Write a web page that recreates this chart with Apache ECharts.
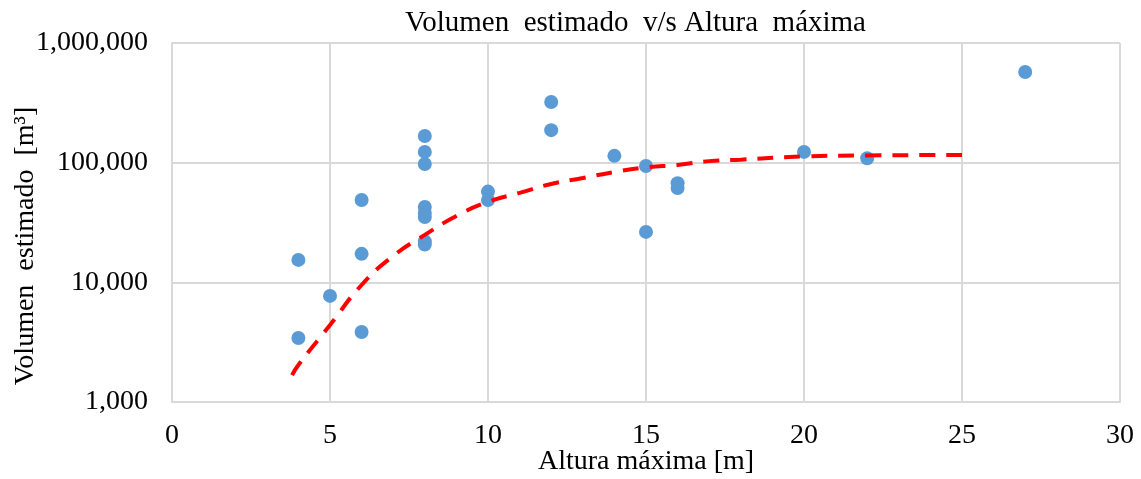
<!DOCTYPE html>
<html>
<head>
<meta charset="utf-8">
<script src="https://cdn.jsdelivr.net/npm/echarts@6/dist/echarts.min.js"></script>
<style>
  html, body { margin: 0; padding: 0; background: #fff; }
  #chart { width: 1141px; height: 479px; }
</style>
</head>
<body>
<div id="chart"></div>
<script>
// measured points: [altura máxima (m), volumen estimado (m3)]
var alturas = [4, 4, 5, 6, 6, 6, 8, 8, 8, 8, 8, 8, 8, 8, 10, 10, 12, 12, 14, 15, 15, 16, 16, 20, 22, 27];
var volumenes = [15400, 3430, 7700, 48800, 17300, 3850, 167000, 123000, 97500, 42600, 38000, 35200, 22000, 20700,
                 57300, 48800, 321000, 187000, 114000, 93800, 26400, 67300, 61500, 123000, 109000, 572000];

// trend curve
var tendX = [3.8, 4, 5, 6, 7, 8, 9, 10, 11, 12, 13, 14, 15, 16, 17, 18, 20, 22, 25];
var tendY = [1680, 2040, 4400, 9500, 16600, 24900, 35900, 47000, 55900, 66400, 74500, 83600, 91200, 95700,
             103000, 106000, 112700, 114800, 116000];

var xTicks = [0, 5, 10, 15, 20, 25, 30];
var yTicks = [1000, 10000, 100000, 1000000];

var puntos = alturas.map(function (a, i) { return [a, volumenes[i]]; });
var tendencia = tendX.map(function (a, i) { return [a, tendY[i]]; });

var chart = echarts.init(document.getElementById('chart'));
var serif = 'Liberation Serif';
var gris = '#d9d9d9';

chart.setOption({
  animation: false,
  title: {
    text: 'Volumen  estimado  v/s Altura  máxima',
    left: 400,
    top: 4,
    textStyle: { fontFamily: serif, fontSize: 29, fontWeight: 'normal', color: '#000' }
  },
  // y axis name drawn apart so it can sit where the reference has it
  graphic: [{
    type: 'text',
    x: 26,
    y: 246,
    rotation: Math.PI / 2,
    style: {
      text: 'Volumen  estimado  [m³]',
      fontFamily: serif, fontSize: 28, fill: '#000',
      align: 'center', verticalAlign: 'middle'
    }
  }],
  grid: { left: 172, right: 21, top: 43, bottom: 77, outerBoundsMode: 'none' },
  xAxis: {
    type: 'value',
    min: xTicks[0],
    max: xTicks[xTicks.length - 1],
    interval: 5,
    name: 'Altura máxima [m]',
    nameLocation: 'middle',
    nameGap: 46,
    nameMoveOverlap: false,
    nameTextStyle: { fontFamily: serif, fontSize: 28, color: '#000' },
    axisLine: { lineStyle: { color: gris, width: 2 } },
    axisTick: { show: false },
    axisLabel: { fontFamily: serif, fontSize: 28, color: '#000', margin: 20 },
    splitLine: { lineStyle: { color: gris, width: 2 } }
  },
  yAxis: {
    type: 'log',
    logBase: 10,
    min: yTicks[0],
    max: yTicks[yTicks.length - 1],
    axisLine: { show: true, lineStyle: { color: gris, width: 2 } },
    axisTick: { show: false },
    minorTick: { show: false },
    axisLabel: {
      fontFamily: serif, fontSize: 28, color: '#000', margin: 24,
      formatter: function (v) { return Math.round(v).toLocaleString('en-US'); }
    },
    splitLine: { lineStyle: { color: gris, width: 2 } }
  },
  series: [
    {
      type: 'scatter',
      data: puntos,
      symbol: 'circle',
      symbolSize: 14,
      itemStyle: { color: '#5b9bd5', opacity: 1 },
      z: 3
    },
    {
      type: 'line',
      data: tendencia,
      smooth: true,
      showSymbol: false,
      lineStyle: { color: '#ff0000', width: 4, type: [16, 11] },
      z: 4
    }
  ]
});
</script>
</body>
</html>
